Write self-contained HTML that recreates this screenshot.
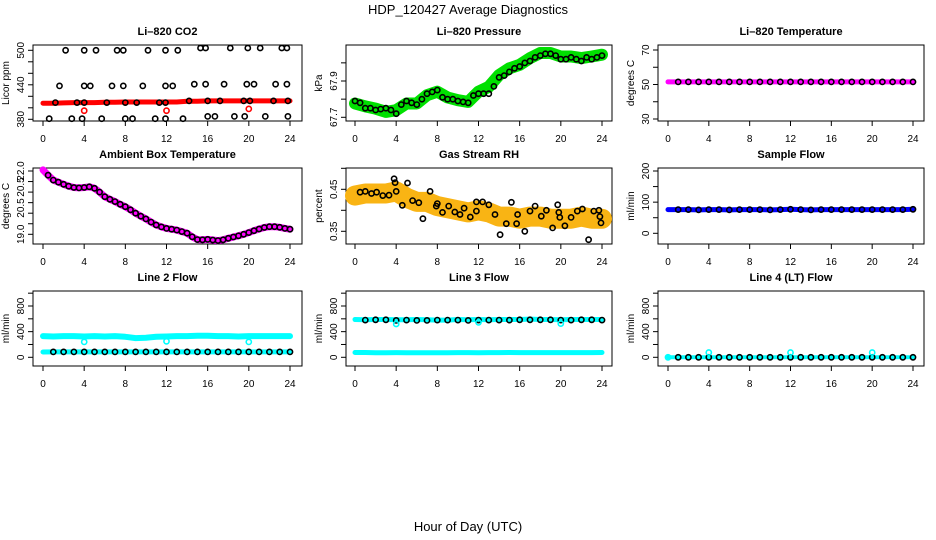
<!DOCTYPE html>
<html><head><meta charset="utf-8"><style>
body{margin:0;background:#fff;}
svg{display:block;font-family:"Liberation Sans",Arial,sans-serif;}
.tt{font-size:11px;font-weight:bold;text-anchor:middle;}
.tk{font-size:10px;text-anchor:middle;}
</style></head><body>
<svg id="chart" width="936" height="540" viewBox="0 0 936 540" xmlns="http://www.w3.org/2000/svg">
<rect width="936" height="540" fill="#fff"/>
<text x="468" y="14" text-anchor="middle" font-size="13">HDP_120427  Average Diagnostics</text>
<text x="468" y="531" text-anchor="middle" font-size="13">Hour of Day (UTC)</text>
</svg>
<script>
// ---- data ----
const xTicks=[0,4,8,12,16,20,24];
const hours25=[0,1,2,3,4,5,6,7,8,9,10,11,12,13,14,15,16,17,18,19,20,21,22,23,24];
const hours49=[0,0.5,1,1.5,2,2.5,3,3.5,4,4.5,5,5.5,6,6.5,7,7.5,8,8.5,9,9.5,10,10.5,11,11.5,12,12.5,13,13.5,14,14.5,15,15.5,16,16.5,17,17.5,18,18.5,19,19.5,20,20.5,21,21.5,22,22.5,23,23.5,24];
// CO2
const co2Band=[408,408,408.5,409,409,409,409.5,409.5,410,410,410,410,410,410,411.5,411.5,412,412,412,412,412,412,412,412,412];
const co2HiT=[2.2,4.0,5.15,7.2,7.8,10.2,11.9,13.1,15.3,15.8,18.2,19.9,21.1,23.2,23.7];
const co2HiV=[500,500,500,500,500,500,500,500,504,504,504,504,504,504,504];
const co2MidT=[1.6,4.0,4.6,6.7,7.8,9.7,11.9,12.6,14.7,15.8,17.6,19.8,20.5,22.6,23.7];
const co2MidV=[438,438,438,438,438,438,438,438,441,441,441,441,441,441,441];
const co2LoT=[1.2,3.3,4.0,6.2,8.0,9.1,11.3,11.9,14.2,16.0,17.2,19.5,20.1,22.4,23.8];
const co2LoV=[409,409,409,409,409,409,409,409,412,412,412,412,412,412,412];
const co2BotT=[0.6,2.8,3.8,5.7,8.0,8.7,10.9,11.9,13.6,16.0,16.7,18.6,19.6,21.6,23.8];
const co2BotV=[381,381,381,381,381,381,381,381,381,385,385,385,385,385,385];
const co2RedT=[4.0,12.0,20.0];
const co2RedV=[395,395,398];
// Pressure
const pressBand=[67.776,67.76,67.748,67.73,67.739,67.776,67.776,67.822,67.841,67.809,67.794,67.785,67.841,67.868,67.933,67.97,67.989,68.026,68.054,68.054,68.035,68.035,68.026,68.035,68.045];
const pressPts=[67.79,67.78,67.75,67.75,67.74,67.745,67.75,67.74,67.72,67.77,67.79,67.78,67.77,67.8,67.83,67.84,67.85,67.81,67.8,67.8,67.79,67.785,67.78,67.82,67.83,67.83,67.83,67.87,67.92,67.93,67.95,67.97,67.98,68.0,68.01,68.03,68.04,68.05,68.05,68.04,68.02,68.02,68.03,68.02,68.01,68.03,68.02,68.03,68.04];
// Li-820 temperature
const liTemp=[51.5,51.5,51.5,51.5,51.5,51.5,51.5,51.5,51.5,51.5,51.5,51.5,51.5,51.5,51.5,51.5,51.5,51.5,51.5,51.5,51.5,51.5,51.5,51.5,51.5];
// Ambient
const ambient=[22.05,21.8,21.57,21.47,21.37,21.28,21.22,21.2,21.22,21.25,21.18,21.0,20.78,20.66,20.55,20.42,20.31,20.16,20.0,19.86,19.73,19.58,19.44,19.35,19.28,19.24,19.2,19.13,19.05,18.88,18.75,18.74,18.76,18.73,18.7,18.74,18.81,18.87,18.93,19.0,19.08,19.17,19.25,19.32,19.36,19.36,19.33,19.28,19.24];
// RH
const rhBand=[0.435,0.44,0.44,0.44,0.445,0.43,0.42,0.42,0.41,0.405,0.4,0.395,0.4,0.395,0.385,0.385,0.38,0.385,0.385,0.38,0.38,0.38,0.385,0.38,0.38];
const rhT=[0.5,1.0,1.6,2.1,2.7,3.3,3.8,3.9,4.0,4.6,5.1,5.6,6.2,6.6,7.3,7.9,8.0,8.5,9.1,9.7,10.2,10.6,11.2,11.8,11.8,12.4,13.0,13.6,14.1,14.7,15.2,15.7,15.8,16.5,17.0,17.5,18.1,18.6,19.2,19.7,19.8,19.9,20.4,21.0,21.6,22.1,22.7,23.2,23.7,23.8,23.9];
const rhV=[0.443,0.445,0.44,0.443,0.435,0.436,0.475,0.466,0.445,0.412,0.465,0.423,0.418,0.38,0.445,0.41,0.416,0.395,0.41,0.396,0.39,0.405,0.384,0.42,0.398,0.42,0.413,0.39,0.342,0.368,0.419,0.368,0.39,0.35,0.398,0.41,0.386,0.4,0.358,0.413,0.395,0.383,0.363,0.383,0.398,0.403,0.33,0.398,0.4,0.385,0.37];
// Flows
const sampleFlow=[76,76,76,75,76,76,75,76,76,76,75,76,77,76,75,76,76,76,76,76,76,76,76,76,77];
const line2Cyan=[330,325,330,330,325,330,325,330,320,300,305,320,325,330,330,335,335,330,330,325,330,330,330,330,330];
const line2Black=[82,84,84,84,84,84,84,84,84,84,84,84,84,84,84,84,84,84,84,84,84,84,84,84,84];
const line3Cyan=[590,585,590,590,585,585,590,585,580,580,590,585,590,585,590,590,590,595,590,590,585,590,590,590,590];
const line3Low=[75,75,72,72,74,72,70,70,70,72,73,74,72,74,74,75,74,74,74,74,74,74,74,74,75];
const line3Black=[585,580,585,585,575,580,575,575,580,580,580,575,580,580,580,580,585,585,585,585,580,580,585,585,580];
const line4=[0,0,0,0,0,0,0,0,0,0,0,0,0,0,0,0,0,0,0,0,0,0,0,0,0];
const flowOutT=[4,12,20];
const line2Out=[240,250,240];
const line3Out=[520,545,525];
const line4Out=[75,75,75];

// ---- layout ----
const svg=document.getElementById('chart');
const NS='http://www.w3.org/2000/svg';
const colL=[33,346,658],colR=[302,612,924],colX0=[43,355,668],colX24=[290,602,913];
const rowT=[45,168,291],rowB=[121,244,366],rowTitle=[35,158,281];
function mk(tag,attrs,parent){const e=document.createElementNS(NS,tag);for(const k in attrs)e.setAttribute(k,attrs[k]);(parent||svg).appendChild(e);return e;}
function panel(c,r,name,title,ylab,v1,p1,v2,p2,ticks,labels,labelPos){
  const g=mk('g',{});
  
  
  const xs=t=>colX0[c]+(colX24[c]-colX0[c])*t/24;
  const ys=v=>p1+(v-v1)*(p2-p1)/(v2-v1);
  const t=mk('text',{x:(colL[c]+colR[c])/2,y:rowTitle[r],class:'tt'},g);t.textContent=title;
  
  
  const box=mk('rect',{x:colL[c],y:rowT[r],width:colR[c]-colL[c],height:rowB[r]-rowT[r],fill:'none',stroke:'#000','stroke-width':1},g);
  
  
  const xa=mk('g',{},g);
  
  
  xTicks.forEach(v=>{const x=xs(v);mk('line',{x1:x,x2:x,y1:rowB[r],y2:rowB[r]+5,stroke:'#000'},xa);
    const tx=mk('text',{x:x,y:rowB[r]+21,class:'tk'},xa);tx.textContent=v;});
  const ya=mk('g',{},g);
  
  
  ticks.forEach(v=>{const y=ys(v);mk('line',{x1:colL[c]-5,x2:colL[c],y1:y,y2:y,stroke:'#000'},ya);});
  labels.forEach((l,i)=>{const y=labelPos?labelPos[i]:ys(+l);const x=colL[c]-9;
    const tx=mk('text',{x:x,y:y,class:'tk',transform:`rotate(-90 ${x} ${y})`},ya);tx.textContent=l;});
  const yl=mk('text',{x:colL[c]-24,y:(rowT[r]+rowB[r])/2,class:'tk',transform:`rotate(-90 ${colL[c]-24} ${(rowT[r]+rowB[r])/2})`},g);
  yl.textContent=ylab;
  
  
  return {g,xs,ys};
}
function band(P,T,V,color,w,nm){
  const d=T.map((t,i)=>(i?'L':'M')+P.xs(t).toFixed(1)+' '+P.ys(V[i]).toFixed(1)).join(' ');
  const p=mk('path',{d:d,fill:'none',stroke:color,'stroke-width':w,'stroke-linejoin':'round','stroke-linecap':'round'},P.g);
  
  
}
function pts(P,T,V,color,nm,r){
  const g=mk('g',{},P.g);
  
  
  T.forEach((t,i)=>mk('circle',{cx:P.xs(t).toFixed(1),cy:P.ys(V[i]).toFixed(1),r:r||2.6,fill:'none',stroke:color,'stroke-width':1.6},g));
}

// CO2
let P=panel(0,0,'co2-panel','Li–820 CO2','Licor ppm',500,50.3,380,119.3,[380,400,420,440,460,480,500],['380','440','500']);
band(P,hours25,co2Band,'#ff0000',5,'co2-red-band');
pts(P,co2RedT,co2RedV,'#ff0000','co2-red-points');
pts(P,co2HiT,co2HiV,'#000','co2-points-500');
pts(P,co2MidT,co2MidV,'#000','co2-points-440');
pts(P,co2LoT,co2LoV,'#000','co2-points-410');
pts(P,co2BotT,co2BotV,'#000','co2-points-380');
// Pressure
P=panel(1,0,'pressure-panel','Li–820 Pressure','kPa',67.9,81,67.7,117.3,[67.7,67.8,67.9,68.0],['67.7','67.9']);
band(P,hours25,pressBand,'#00e000',12,'pressure-green-band');
pts(P,hours49,pressPts,'#000','pressure-points');
// Li temp
P=panel(2,0,'li820-temp-panel','Li–820 Temperature','degrees C',70,50,30,119,[30,40,50,60,70],['30','50','70']);
band(P,hours25,liTemp,'#ff00ff',5,'li820-temp-band');
pts(P,hours25.slice(1),liTemp.slice(1),'#000','li820-temp-points');
// Ambient
P=panel(0,1,'ambient-temp-panel','Ambient Box Temperature','degrees C',22,171,19,234.3,[19,19.5,20,20.5,21,21.5,22],['19.0','20.5','20.5','22.0'],[234.3,208,187,171]);
band(P,hours49,ambient,'#ff00ff',7,'ambient-temp-band');
pts(P,hours49.slice(1),ambient.slice(1),'#000','ambient-temp-points');
// RH
P=panel(1,1,'rh-panel','Gas Stream RH','percent',0.45,189.3,0.35,231.3,[0.35,0.40,0.45,0.50],['0.35','0.45']);
band(P,hours25,rhBand,'#f9b414',20,'rh-orange-band');
pts(P,rhT,rhV,'#000','rh-points');
// Sample flow
P=panel(2,1,'sample-flow-panel','Sample Flow','ml/min',200,171,0,233.3,[0,50,100,150,200],['0','100','200']);
band(P,hours25,sampleFlow,'#0000ff',5,'sample-flow-band');
pts(P,hours25.slice(1),sampleFlow.slice(1),'#000','sample-flow-points');
// Line 2
P=panel(0,2,'line2-flow-panel','Line 2 Flow','ml/min',0,357.3,800,306,[0,200,400,600,800,1000],['0','400','800']);
band(P,hours25,line2Cyan,'#00ffff',6,'line2-cyan-band');
band(P,hours25,line2Black,'#00ffff',5,'line2-cyan-low-band');
pts(P,hours25.slice(1),line2Black.slice(1),'#000','line2-points');
pts(P,flowOutT,line2Out,'#00ffff','line2-outliers');
// Line 3
P=panel(1,2,'line3-flow-panel','Line 3 Flow','ml/min',0,357.3,800,306,[0,200,400,600,800,1000],['0','400','800']);
band(P,hours25,line3Cyan,'#00ffff',5,'line3-cyan-band');
band(P,hours25,line3Low,'#00ffff',5,'line3-cyan-low-band');
pts(P,hours25.slice(1),line3Black.slice(1),'#000','line3-points');
pts(P,flowOutT,line3Out,'#00ffff','line3-outliers');
// Line 4
P=panel(2,2,'line4-flow-panel','Line 4 (LT) Flow','ml/min',0,357.3,800,306,[0,200,400,600,800,1000],['0','400','800']);
band(P,hours25,line4,'#00ffff',4,'line4-cyan-band');
pts(P,hours25.slice(1),line4.slice(1),'#000','line4-points');
pts(P,flowOutT,line4Out,'#00ffff','line4-outliers');
pts(P,[0],[0],'#00ffff','line4-start-point');
</script>
</body></html>
